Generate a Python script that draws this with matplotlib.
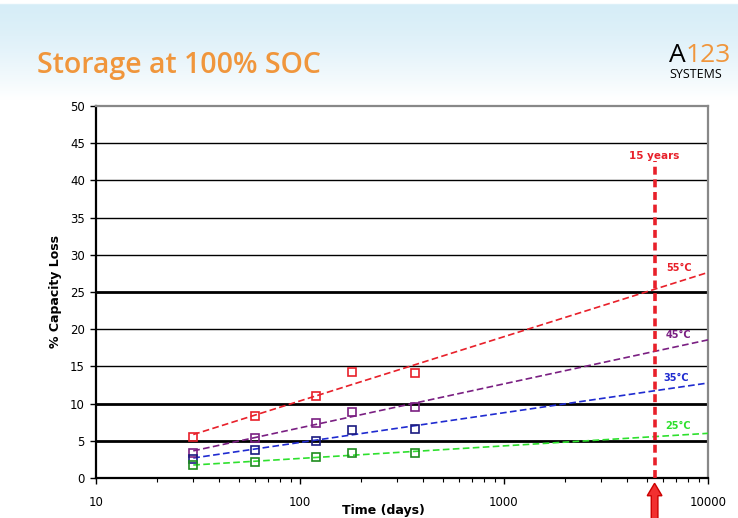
import matplotlib.pyplot as plt
import numpy as np
from matplotlib.patches import FancyArrow

plt.rcParams.update({'font.family': ['DejaVu Sans']})

days = [30, 60, 120, 180, 365]
loss_55 = [5.5, 8.3, 11.0, 14.2, 14.1]
loss_45 = [3.4, 5.4, 7.4, 8.9, 9.5]
loss_35 = [2.6, 3.8, 5.0, 6.5, 6.6]
loss_25 = [1.7, 2.2, 2.8, 3.3, 3.4]
labels = ['55°C', '45°C', '35°C', '25°C']
line_colors = ['#e8202a', '#7a1f82', '#1f2bd0', '#2ee02e']
marker_colors = ['#e8202a', '#7a1f82', '#1a1a80', '#1e8c1e']
label_pos = [(7200, 27.6), (7200, 18.6), (7000, 12.8), (7100, 6.3)]
fifteen_years = 15 * 365

fig = plt.figure(figsize=(7.38, 5.18), dpi=100)

# header gradient background
bg = fig.add_axes([0, 0, 1, 1], zorder=-10)
grad = np.linspace(0, 1, 256).reshape(-1, 1)
top = np.array([0.84, 0.93, 0.97])
white = np.array([1.0, 1.0, 1.0])
mix = np.clip(grad / 0.19, 0, 1) ** 1.5
img = top[None, None, :] * (1 - mix[..., None]) + white[None, None, :] * mix[..., None]
img[:2] = 1.0
bg.imshow(img, aspect='auto', extent=[0, 1, 0, 1], origin='upper')
bg.axis('off')

fig.text(0.050, 0.873, 'Storage at 100% SOC', color='#f0963c', fontsize=20.5,
         family='Open Sans', fontweight='semibold', va='center', ha='left')
fig.text(0.906, 0.893, 'A', color='black', fontsize=19, family='Open Sans',
         va='center', ha='left')
fig.text(0.929, 0.893, '123', color='#f0963c', fontsize=19, family='Open Sans',
         va='center', ha='left')
fig.text(0.907, 0.857, 'SYSTEMS', color='black', fontsize=9, family='Open Sans',
         va='center', ha='left')

ax = fig.add_axes([0.130, 0.0772, 0.8293, 0.7182])
ax.set_xscale('log')
ax.set_xlim(10, 10000)
ax.set_ylim(0, 50)

for yv in range(5, 50, 5):
    lw = 2.0 if yv in (5, 10, 25) else 1.0
    ax.axhline(yv, color='black', lw=lw, zorder=1)

xfit = np.array([30, 10000])
for vals, lc, mc in zip([loss_55, loss_45, loss_35, loss_25], line_colors, marker_colors):
    b, a = np.polyfit(np.log10(days), vals, 1)
    ax.plot(xfit, a + b * np.log10(xfit), color=lc, lw=1.2, ls=(0, (4, 2)), zorder=3)
    ax.plot(days, vals, ls='none', marker='s', ms=5.5, mfc='none', mec=mc, mew=1.2, zorder=4)

for lab, (px, py), c in zip(labels, label_pos, line_colors):
    ax.text(px, py, lab, color=c, fontsize=7, fontweight='bold', ha='center', va='bottom')

ax.vlines(fifteen_years, 0, 42.6, color='#e8202a', lw=2.6, ls=(0, (2.2, 1.3)), zorder=5)
ax.text(fifteen_years, 42.6, '15 years', color='#e8202a', fontsize=7.5, fontweight='bold',
        ha='center', va='bottom')

ax.set_xticks([10, 100, 1000, 10000])
ax.set_xticklabels(['10', '100', '1000', '10000'])
ax.set_yticks(range(0, 51, 5))
ax.tick_params(axis='x', which='major', length=4, width=1, pad=9, labelsize=8.5)
ax.tick_params(axis='x', which='minor', length=3, width=0.8)
ax.tick_params(axis='y', length=4, width=1, labelsize=8.5, pad=4)
ax.set_ylabel('% Capacity Loss', fontsize=9, fontweight='bold', labelpad=6)
ax.set_xlabel('Time (days)', fontsize=9, fontweight='bold', labelpad=0)
ax.xaxis.set_label_coords(0.47, -0.07)

for side in ('left', 'bottom'):
    ax.spines[side].set_linewidth(1.6)
    ax.spines[side].set_color('black')
for side in ('top', 'right'):
    ax.spines[side].set_color('#888888')
    ax.spines[side].set_linewidth(1.6)

# arrow below the 15 year mark
ax_x = ax.transData.transform((fifteen_years, 0))[0] / fig.bbox.width
arrow = FancyArrow(ax_x, -0.01, 0, 0.077, width=0.009, head_width=0.02, head_length=0.024,
                   transform=fig.transFigure, facecolor='#f23030', edgecolor='#cc0000',
                   lw=1, length_includes_head=True, clip_on=False)
fig.patches.append(arrow)

fig.savefig('out.png', dpi=100)
